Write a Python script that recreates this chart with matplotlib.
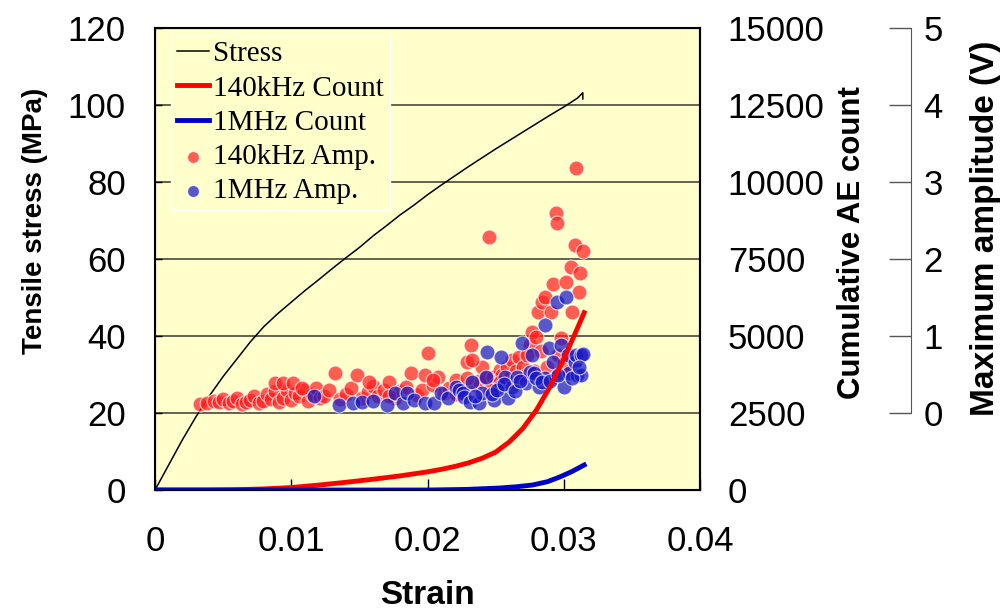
import matplotlib.pyplot as plt

# ==============================
# DATA
# ==============================

# Stress-strain curve
stress_strain = [0, 0.001, 0.002, 0.003, 0.004, 0.005, 0.006, 0.007, 0.008, 0.009,
                 0.010, 0.011, 0.012, 0.013, 0.014, 0.015, 0.016, 0.017, 0.018, 0.019,
                 0.020, 0.021, 0.022, 0.023, 0.024, 0.025, 0.026, 0.027, 0.028, 0.029,
                 0.030, 0.031, 0.0314, 0.0314]
stress = [0, 6.5, 13, 19, 24.5, 29.5, 34, 38.5, 42.5, 45.8,
          48.8, 51.8, 54.6, 57.5, 60.3, 63, 66, 68.7, 71.5, 74,
          76.7, 79.2, 81.6, 84, 86.3, 88.6, 90.8, 93, 95.2, 97.4,
          99.5, 101.8, 103.2, 101.6]

# Cumulative AE count
count140_strain = [0, 0.004, 0.006, 0.008, 0.010, 0.012, 0.014, 0.016, 0.018, 0.020,
                   0.021, 0.022, 0.023, 0.024, 0.025, 0.026, 0.027, 0.028, 0.029,
                   0.030, 0.031, 0.0315]
count140 = [0, 0, 10, 35, 80, 160, 250, 350, 460, 590,
            670, 765, 880, 1030, 1230, 1560, 2000, 2600, 3360,
            4260, 5250, 5760]
count1m_strain = [0, 0.020, 0.0229, 0.0253, 0.0265, 0.0277, 0.0288, 0.0297, 0.0306, 0.0315]
count1m = [0, 0, 20, 65, 105, 162, 270, 422, 600, 812]

# Maximum amplitude, 140 kHz
amp140_strain = [
    0.0033, 0.0038, 0.0043, 0.0047, 0.0050, 0.0054, 0.0057, 0.0060, 0.0064, 0.0067,
    0.0070, 0.0073, 0.0076, 0.0079, 0.0082, 0.0085, 0.0088, 0.0091, 0.0094, 0.0097,
    0.0100, 0.0103, 0.0106, 0.0109, 0.0112, 0.0115, 0.0118, 0.0121,
    0.0088, 0.0094, 0.0101, 0.0108,
    0.0124, 0.0128, 0.0132, 0.0136, 0.0140, 0.0144, 0.0148, 0.0152, 0.0156, 0.0160,
    0.0164, 0.0168, 0.0172, 0.0176, 0.0180, 0.0184, 0.0188, 0.0192, 0.0196, 0.0200,
    0.0204, 0.0208, 0.0212, 0.0216, 0.0221, 0.0225, 0.0229, 0.0232, 0.0235, 0.0238,
    0.0157, 0.0172, 0.0198, 0.0204, 0.0221, 0.0229,
    0.0240, 0.0243, 0.0245, 0.0248, 0.0250, 0.0253, 0.0255, 0.0258, 0.0260, 0.0262,
    0.0265, 0.0267, 0.0270, 0.0272, 0.0275, 0.0277, 0.0280, 0.0281, 0.0284, 0.0286,
    0.0291, 0.0292, 0.0294, 0.0295, 0.0298, 0.0302, 0.0305, 0.0306, 0.0308, 0.0309,
    0.0311, 0.0312, 0.0314,
    0.0233, 0.0246, 0.0253, 0.0262, 0.0268, 0.0273, 0.0278, 0.0283, 0.0288, 0.0296,
    0.0300, 0.0304, 0.0310]
amp140 = [
    0.12, 0.13, 0.15, 0.14, 0.18, 0.13, 0.16, 0.20, 0.12, 0.14,
    0.17, 0.22, 0.13, 0.15, 0.25, 0.18, 0.28, 0.14, 0.20, 0.30,
    0.17, 0.26, 0.22, 0.30, 0.15, 0.25, 0.32, 0.20,
    0.39, 0.39, 0.39, 0.32,
    0.22, 0.30, 0.52, 0.18, 0.25, 0.32, 0.49, 0.20, 0.27, 0.35,
    0.22, 0.30, 0.40, 0.20, 0.28, 0.34, 0.52, 0.24, 0.30, 0.78,
    0.36, 0.47, 0.26, 0.33, 0.43, 0.30, 0.66, 0.88, 0.36, 0.42,
    0.40, 0.22, 0.49, 0.43, 0.25, 0.45,
    0.60, 0.45, 2.29, 0.47, 0.38, 0.56, 0.50, 0.60, 0.45, 0.69,
    0.55, 0.73, 0.60, 0.50, 0.88, 1.05, 0.99, 1.31, 1.44, 1.51,
    1.31, 1.67, 2.60, 2.47, 0.97, 1.70, 1.90, 1.31, 2.18, 3.18,
    1.57, 1.82, 2.10,
    0.69, 0.30, 0.40, 0.40, 0.45, 0.75, 0.55, 0.80, 0.60, 0.75,
    0.65, 0.55, 0.70]

# Maximum amplitude, 1 MHz
amp1m_strain = [
    0.0117, 0.0135, 0.0145, 0.0152, 0.0160, 0.0170, 0.0176, 0.0182, 0.0185, 0.0190,
    0.0198, 0.0205, 0.0210, 0.0215, 0.0221, 0.0223, 0.0226, 0.0227, 0.0231, 0.0233,
    0.0238, 0.0240, 0.0243, 0.0244, 0.0249, 0.0253, 0.0254, 0.0257, 0.0259, 0.0262,
    0.0266, 0.0269, 0.0272, 0.0275, 0.0277, 0.0278, 0.0282, 0.0286, 0.0286, 0.0289,
    0.0292, 0.0294, 0.0295, 0.0298, 0.0300, 0.0302, 0.0303, 0.0304, 0.0308, 0.0309,
    0.0310, 0.0313, 0.0313, 0.0314,
    0.0235, 0.0247, 0.0251, 0.0256, 0.0264, 0.0268, 0.0280, 0.0284, 0.0290, 0.0296,
    0.0306, 0.0311]
amp1m = [
    0.22, 0.11, 0.13, 0.14, 0.15, 0.11, 0.26, 0.13, 0.26, 0.17,
    0.13, 0.13, 0.26, 0.19, 0.34, 0.30, 0.26, 0.21, 0.14, 0.40,
    0.13, 0.26, 0.47, 0.79, 0.17, 0.34, 0.73, 0.47, 0.19, 0.34,
    0.47, 0.91, 0.39, 0.53, 0.75, 0.52, 0.34, 0.45, 1.14, 0.84,
    0.66, 0.47, 1.44, 0.88, 0.34, 1.51, 0.75, 0.52, 0.66, 0.75,
    0.49, 0.75, 0.49, 0.77,
    0.22, 0.25, 0.30, 0.38, 0.28, 0.42, 0.45, 0.40, 0.42, 0.50,
    0.45, 0.60]

x_ticks = [0, 0.01, 0.02, 0.03, 0.04]
x_ticklabels = ["0", "0.01", "0.02", "0.03", "0.04"]
stress_ticks = [0, 20, 40, 60, 80, 100, 120]
count_ticks = [0, 2500, 5000, 7500, 10000, 12500, 15000]
amp_ticks = [0, 1, 2, 3, 4, 5]

# ==============================
# PLOT
# ==============================
plt.rcParams['font.family'] = ['Liberation Sans', 'DejaVu Sans']

fig = plt.figure(figsize=(10.04, 6.11), dpi=100)
ax = fig.add_axes([0.1544, 0.198, 0.5428, 0.756])
ax.set_facecolor("#FFFFCC")
ax2 = ax.twinx()
ax3 = ax.twinx()
ax.set_zorder(0)
ax3.set_zorder(1)
ax2.set_zorder(2)

# stress
l1, = ax.plot(stress_strain, stress, color="black", lw=1.1, label="Stress")
ax.set_xlim(0, 0.04)
ax.set_ylim(0, 120)
ax.set_xticks(x_ticks)
ax.set_xticklabels(x_ticklabels)
ax.set_yticks(stress_ticks)
for v in stress_ticks[1:-1]:
    ax.axhline(v, color="#555548", lw=1.3, zorder=0.5)
ax.tick_params(axis="x", direction="in", length=8, width=1, labelsize=25, pad=25)
ax.tick_params(axis="y", direction="in", length=5, width=1, labelsize=25, pad=21)
for s in ax.spines.values():
    s.set_linewidth(1.5)
ax.set_xlabel("Strain", fontsize=24, fontweight="bold")
ax.xaxis.set_label_coords(0.5, -0.195)
ax.set_ylabel("Tensile stress (MPa)", fontsize=20, fontweight="bold")
ax.yaxis.set_label_coords(-0.196, 0.582)

# AE counts
l2, = ax2.plot(count140_strain, count140, color="#FF0000", lw=3.5, label="140kHz Count")
l3, = ax2.plot(count1m_strain, count1m, color="#0000CC", lw=3.5, label="1MHz Count")
ax2.set_ylim(0, 15000)
ax2.set_yticks(count_ticks)
ax2.tick_params(axis="y", length=0, labelsize=25, pad=20)
ax2.set_ylabel("Cumulative AE count", fontsize=22.5, fontweight="bold")
ax2.yaxis.set_label_coords(1.251, 0.535)
ax2.spines["right"].set_linewidth(1.5)

# amplitudes
s1 = ax3.scatter(amp140_strain, amp140, s=115, color="#FF2020", alpha=0.72,
                 edgecolors="white", linewidths=0.8, label="140kHz Amp.")
s2 = ax3.scatter(amp1m_strain, amp1m, s=115, color="#1818C8", alpha=0.72,
                 edgecolors="white", linewidths=0.8, label="1MHz Amp.")
ax3.set_ylim(-1, 5)
ax3.set_yticks(amp_ticks)
ax3.spines["right"].set_position(("axes", 1.387))
ax3.spines["right"].set_bounds(0, 5)
ax3.spines["right"].set_color("#555555")
for side in ["top", "bottom", "left"]:
    ax3.spines[side].set_visible(False)
ax3.tick_params(axis="y", direction="in", length=16, width=1, color="#555555",
                labelsize=25, pad=9)
ax3.set_ylabel("Maximum amplitude (V)", fontsize=24, fontweight="bold")
ax3.yaxis.set_label_coords(1.495, 0.567)

leg = ax2.legend(handles=[l1, l2, l3, s1, s2], loc="upper left",
                 bbox_to_anchor=(0.029, 0.985), frameon=True, fancybox=False,
                 facecolor="#FFFFCC", edgecolor="white", framealpha=1,
                 prop={"family": "Liberation Serif", "size": 21},
                 handlelength=1.1, handletextpad=0.15, labelspacing=0.27,
                 borderpad=0.2, borderaxespad=0, markerscale=0.8)

plt.savefig("out.png", dpi=100)
